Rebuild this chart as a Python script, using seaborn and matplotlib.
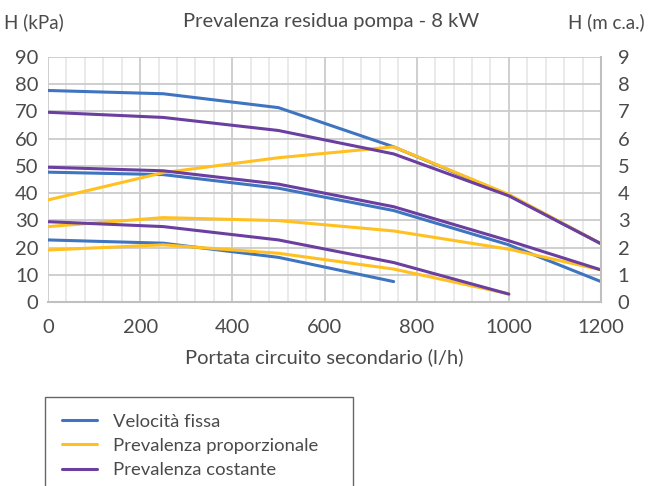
import pandas as pd
import matplotlib.pyplot as plt
import seaborn as sns
from matplotlib.ticker import MultipleLocator

# dati (portata l/h, prevalenza kPa)
portata = [0, 250, 500, 750, 1000, 1200]
portata_corta = [0, 250, 500, 750]
portata_media = [0, 250, 500, 750, 1000]

fissa_alta = [77.7, 76.5, 71.4, 57, 39.2, 21.4]
fissa_media = [47.7, 46.8, 41.8, 33.6, 21, 7.5]
fissa_bassa = [22.8, 21.6, 16.4, 7.5]

prop_alta = [37.5, 47.5, 53, 57, 39.5, 21.4]
prop_media = [27.7, 31, 29.9, 26.1, 19.4, 11.8]
prop_bassa = [19.1, 21, 17.9, 12.1, 3]

cost_alta = [69.7, 67.8, 63, 54.4, 39, 21.4]
cost_media = [49.5, 48.2, 43.3, 35, 22.5, 11.8]
cost_bassa = [29.5, 27.7, 22.8, 14.5, 2.9]

modi = ['Velocità fissa', 'Prevalenza proporzionale', 'Prevalenza costante']
colori = ['#3F74C0', '#FFC020', '#6A3FA0']

curve = [
    (modi[0], 'f1', portata, fissa_alta),
    (modi[0], 'f2', portata, fissa_media),
    (modi[0], 'f3', portata_corta, fissa_bassa),
    (modi[1], 'p1', portata, prop_alta),
    (modi[1], 'p2', portata, prop_media),
    (modi[1], 'p3', portata_media, prop_bassa),
    (modi[2], 'c1', portata, cost_alta),
    (modi[2], 'c2', portata, cost_media),
    (modi[2], 'c3', portata_media, cost_bassa),
]
righe = []
for modo, nome, xs, ys in curve:
    for x, y in zip(xs, ys):
        righe.append({'modo': modo, 'curva': nome, 'portata': x, 'H': y})
df = pd.DataFrame(righe)

sns.set_style('white')
plt.rcParams['font.family'] = ['Lato', 'DejaVu Sans']
grigio = '#4a4a4a'

fig = plt.figure(figsize=(6.48, 4.86), dpi=100)
ax = fig.add_axes([48 / 648, 1 - 302 / 486, 553 / 648, 245 / 486])

sns.lineplot(data=df, x='portata', y='H', hue='modo', units='curva',
             estimator=None, palette=colori, hue_order=modi,
             linewidth=2.2, ax=ax, legend=False, sort=False)

ax.set_xlim(0, 1200)
ax.set_ylim(0, 90)
ax.xaxis.set_major_locator(MultipleLocator(200))
ax.xaxis.set_minor_locator(MultipleLocator(40))
ax.yaxis.set_major_locator(MultipleLocator(10))
ax.grid(which='major', axis='both', color='#cccccc', linewidth=1.3)
ax.grid(which='minor', axis='x', color='#e8e8e8', linewidth=1.3)
ax.set_axisbelow(True)
for lato in ['top', 'left']:
    ax.spines[lato].set_visible(False)
for lato in ['bottom', 'right']:
    ax.spines[lato].set_color('#c0c0c0')
    ax.spines[lato].set_linewidth(1.5)
ax.tick_params(which='both', length=0, labelsize=14.5, labelcolor=grigio)
ax.tick_params(axis='x', pad=12)
ax.tick_params(axis='y', pad=7)

ax2 = ax.twinx()
ax2.set_ylim(0, 9)
ax2.yaxis.set_major_locator(MultipleLocator(1))
for lato in ['top', 'left', 'bottom', 'right']:
    ax2.spines[lato].set_visible(False)
ax2.tick_params(length=0, labelsize=14.5, labelcolor=grigio, pad=12)

ax.set_xlabel('Portata circuito secondario (l/h)', fontsize=14.5, color=grigio, labelpad=9)
ax.set_ylabel('')

fig.text(4 / 648, 1 - 22 / 486, 'H (kPa)', fontsize=13.5, color=grigio, va='center')
fig.text(331 / 648, 1 - 22 / 486, 'Prevalenza residua pompa - 8 kW', fontsize=14.5,
         color=grigio, va='center', ha='center')
fig.text(645 / 648, 1 - 22 / 486, 'H (m c.a.)', fontsize=13.5, color=grigio,
         va='center', ha='right')

maniglie = [plt.Line2D([], [], color=c, linewidth=2.2) for c in colori]
leg = fig.legend(maniglie, modi, loc='upper left', mode='expand',
                 bbox_to_anchor=(45 / 648, 0, 308 / 648, 1 - 397 / 486),
                 frameon=True, fontsize=13.3, handlelength=1.9,
                 handletextpad=0.9, labelspacing=0.45, borderpad=0.9,
                 borderaxespad=0, fancybox=False)
leg.get_frame().set_edgecolor('#404040')
leg.get_frame().set_linewidth(1.0)
for t in leg.get_texts():
    t.set_color(grigio)

fig.savefig('out.png', dpi=100)
